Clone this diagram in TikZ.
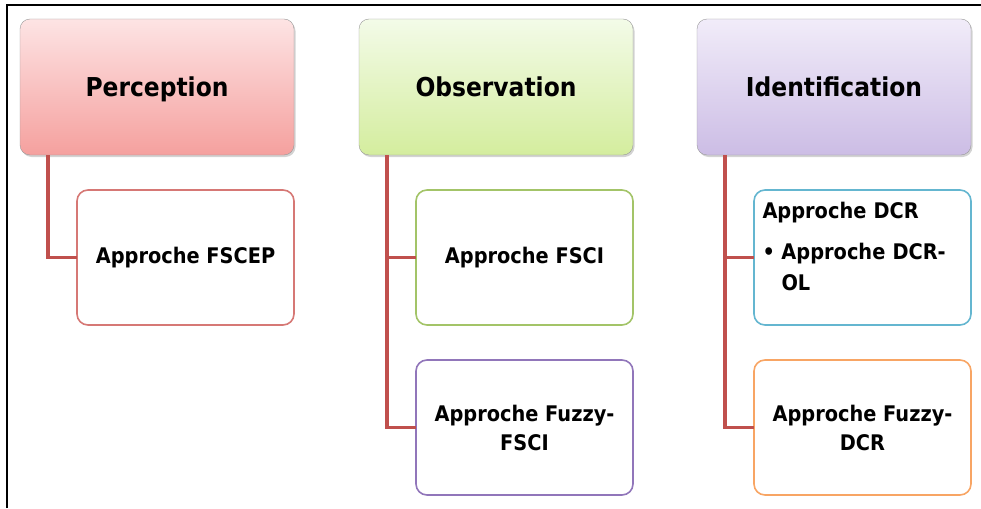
\documentclass[tikz,border=0pt]{standalone}
\usepackage{fontspec}
\setmainfont{DejaVu Sans}[FakeStretch=0.9]
\usetikzlibrary{positioning, shadows, calc}

\definecolor{linkred}{RGB}{192,80,77}
\definecolor{perctop}{RGB}{253,228,228}
\definecolor{percbot}{RGB}{245,160,158}
\definecolor{obstop}{RGB}{243,251,232}
\definecolor{obsbot}{RGB}{212,237,158}
\definecolor{identtop}{RGB}{241,236,249}
\definecolor{identbot}{RGB}{204,189,229}
\definecolor{fscepred}{RGB}{214,120,117}
\definecolor{fscigreen}{RGB}{163,196,104}
\definecolor{fuzzypurple}{RGB}{145,118,186}
\definecolor{dcrblue}{RGB}{100,182,208}
\definecolor{fuzzyorange}{RGB}{248,165,100}

\begin{document}
\begin{tikzpicture}[
    x=1pt, y=-1pt,
    every node/.style={font=\bfseries},
    headbox/.style={
        rectangle,
        rounded corners=10pt,
        draw=black!40,
        minimum width=274pt,
        minimum height=136pt,
        outer sep=0pt,
        text height=22pt,
        text depth=2pt,
        font=\fontsize{26}{30}\selectfont\bfseries,
        drop shadow={shadow xshift=1.5pt, shadow yshift=-2pt, opacity=0.35}
    },
    childbox/.style={
        rectangle,
        rounded corners=11pt,
        line width=1.6pt,
        fill=white,
        minimum width=217pt,
        minimum height=135pt,
        outer sep=0pt,
        align=center,
        font=\fontsize{21.5}{29}\selectfont\bfseries
    },
    link/.style={
        line width=3.5pt,
        draw=linkred
    }
]
\useasboundingbox (0,0) rectangle (981,508);

% Frame
\draw[line width=1.4pt] (7,508) -- (7,5) -- (981,5);

% Headers
\node[headbox, top color=perctop, bottom color=percbot] (perception) at (157,87) {Perception};
\node[headbox, top color=obstop, bottom color=obsbot, right=65pt of perception] (observation) {Observation};
\node[headbox, top color=identtop, bottom color=identbot, right=64pt of observation] (identification) {Identification};

% Perception branch
\node[childbox, draw=fscepred, below=35pt of perception.south east, anchor=north east] (fscep) {Approche FSCEP};

% Observation branch
\node[childbox, draw=fscigreen, below=35pt of observation.south east, anchor=north east] (fsci) {Approche FSCI};
\node[childbox, draw=fuzzypurple, below=35pt of fsci] (fuzzyfsci) {Approche Fuzzy-\\FSCI};

% Identification branch
\node[childbox, draw=dcrblue, align=left, text width=200pt, inner xsep=8pt,
      text height=16pt, text depth=95pt, font=\fontsize{21.5}{31}\selectfont\bfseries,
      below=35pt of identification.south east, anchor=north east] (dcr)
    {Approche DCR\\[10pt]\makebox[19pt][l]{\textbullet}Approche DCR-\\\hspace*{19pt}OL};
\node[childbox, draw=fuzzyorange, below=35pt of dcr] (fuzzydcr) {Approche Fuzzy-\\DCR};

% Links
\coordinate (percroot) at ([xshift=28pt]perception.south west);
\coordinate (obsroot) at ([xshift=28pt]observation.south west);
\coordinate (identroot) at ([xshift=28pt]identification.south west);
\draw[link] (percroot) |- (fscep.west);
\draw[link] (obsroot) |- (fsci.west) (obsroot) |- (fuzzyfsci.west);
\draw[link] (identroot) |- (dcr.west) (identroot) |- (fuzzydcr.west);

\end{tikzpicture}
\end{document}
